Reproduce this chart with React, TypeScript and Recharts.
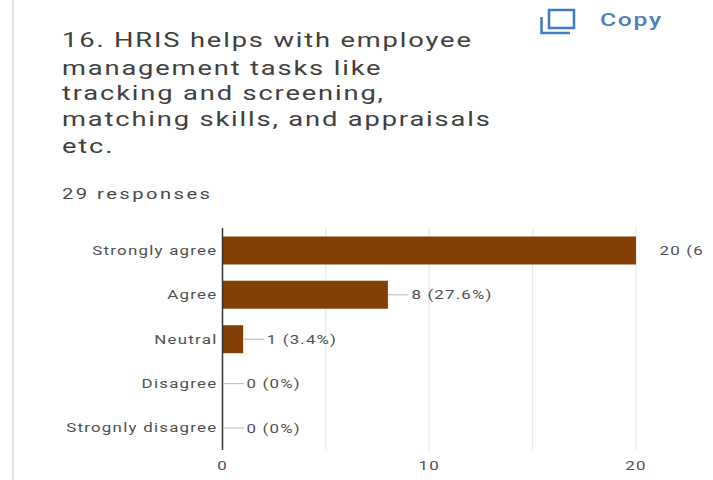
import React from "react";
import { BarChart, Bar, XAxis, YAxis, CartesianGrid, LabelList } from "recharts";

const categories = ["Strongly agree", "Agree", "Neutral", "Disagree", "Strognly disagree"];
const counts = [20, 8, 1, 0, 0];
const valueLabels = ["20 (69%)", "8 (27.6%)", "1 (3.4%)", "0 (0%)", "0 (0%)"];
const xTicks = [0, 10, 20];
const gridValues = [5, 10, 15, 20];
const titleLines = [
  "16. HRIS helps with employee",
  "management tasks like",
  "tracking and screening,",
  "matching skills, and appraisals",
  "etc.",
];
const titleTops = [26, 54, 79, 105, 132];
const responsesText = "29 responses";

const rows = categories.map((name, i) => ({ name, count: counts[i], label: valueLabels[i] }));
const font = "Roboto, sans-serif";
const textColor = "#505050";
const stretch = 1.3;

function ValueLabel(props: any) {
  const { x, y, width, height, index } = props;
  const end = Number(x) + Number(width);
  const mid = Number(y) + Number(height) / 2;
  return (
    <g>
      {index > 0 && <line x1={end} x2={end + 21} y1={mid} y2={mid} stroke="#b8b8b8" strokeWidth={1} />}
      <text
        transform={`translate(${end + 23.5},${mid + 4.5}) scale(${stretch},1)`}
        fill={textColor}
        fontSize={13}
        fontFamily={font}
        letterSpacing={0.9}
      >
        {valueLabels[index]}
      </text>
    </g>
  );
}

function CategoryTick(props: any) {
  const { y, payload } = props;
  return (
    <text
      transform={`translate(217.5,${Number(y) + 4.5}) scale(${stretch},1)`}
      textAnchor="end"
      fill={textColor}
      fontSize={13}
      fontFamily={font}
      letterSpacing={0.95}
    >
      {payload.value}
    </text>
  );
}

function ValueTick(props: any) {
  const { x, y, payload } = props;
  return (
    <text
      transform={`translate(${x},${Number(y) + 12}) scale(${stretch},1)`}
      textAnchor="middle"
      fill={textColor}
      fontSize={13}
      fontFamily={font}
      letterSpacing={0.9}
    >
      {payload.value}
    </text>
  );
}

const stretched: React.CSSProperties = {
  position: "absolute",
  transform: `scaleX(${stretch})`,
  transformOrigin: "left center",
  whiteSpace: "nowrap",
};

export default function App() {
  return (
    <div style={{ position: "absolute", left: 0, top: 0, width: 713, height: 480, overflow: "hidden", background: "#fff", fontFamily: font }}>
      <div style={{ position: "absolute", left: 12, top: 0, width: 2, height: 480, background: "#e2e2e2" }} />
      {titleLines.map((line, i) => (
        <div
          key={line}
          style={{ ...stretched, left: 62, top: titleTops[i], fontSize: 21, lineHeight: "28px", letterSpacing: 1.42, color: "#404040" }}
        >
          {line}
        </div>
      ))}
      <div style={{ ...stretched, left: 62, top: 185, fontSize: 15.5, lineHeight: "18px", letterSpacing: 1.9, color: "#484848" }}>
        {responsesText}
      </div>
      <svg style={{ position: "absolute", left: 538, top: 7 }} width={42} height={28}>
        <rect x={11} y={3} width={25} height={18} fill="none" stroke="#3f7cc4" strokeWidth={2.5} />
        <path d="M3.5 10 V26 H32" fill="none" stroke="#3f7cc4" strokeWidth={2.5} />
      </svg>
      <div style={{ ...stretched, left: 600, top: 10, fontSize: 19, lineHeight: "20px", fontWeight: 500, letterSpacing: 1.3, color: "#4a80bd" }}>
        Copy
      </div>
      <div style={{ position: "absolute", left: 0, top: 0, width: 702, height: 480, overflow: "hidden" }}>
        <BarChart
          width={702}
          height={480}
          data={rows}
          layout="vertical"
          barCategoryGap="19%"
          margin={{ top: 228, right: 66, bottom: 0, left: 0 }}
        >
          <CartesianGrid vertical horizontal={false} verticalValues={gridValues} stroke="#ececec" strokeWidth={1.5} />
          <XAxis
            type="number"
            dataKey="count"
            domain={[0, 20]}
            ticks={xTicks}
            height={30}
            axisLine={false}
            tickLine={false}
            tick={ValueTick}
          />
          <YAxis
            type="category"
            dataKey="name"
            width={222.5}
            interval={0}
            axisLine={{ stroke: "#333", strokeWidth: 1.5 }}
            tickLine={false}
            tick={CategoryTick}
          />
          <Bar dataKey="count" fill="#843f06" minPointSize={0.5} isAnimationActive={false}>
            <LabelList dataKey="label" content={ValueLabel} />
          </Bar>
        </BarChart>
      </div>
    </div>
  );
}
